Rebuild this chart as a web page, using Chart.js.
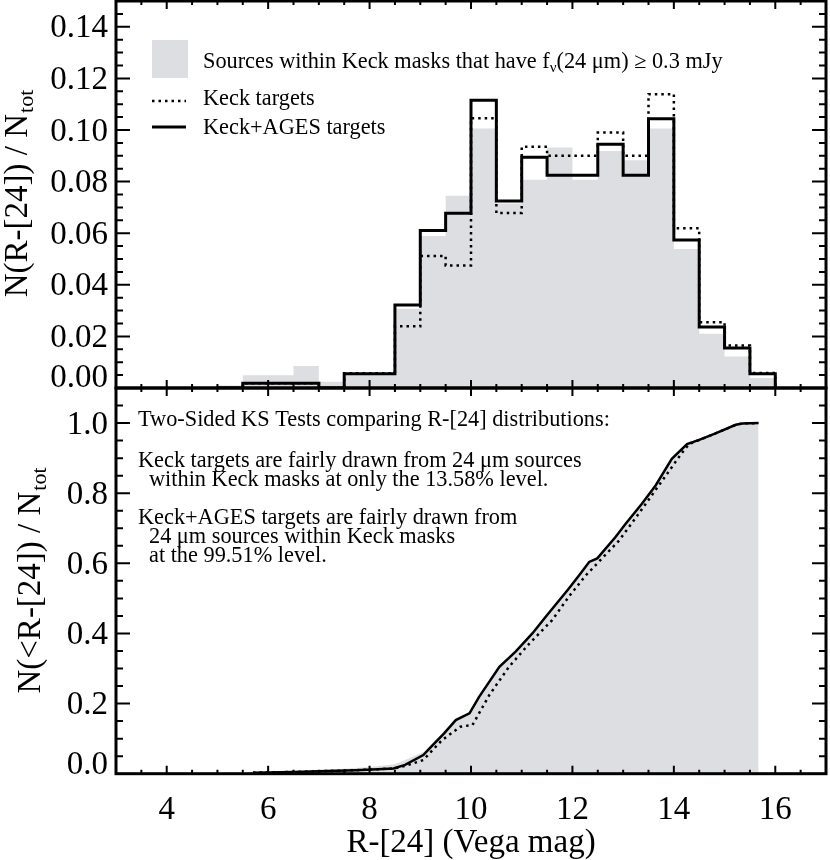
<!DOCTYPE html>
<html>
<head>
<meta charset="utf-8">
<title>R-[24] distributions</title>
<script src="https://cdn.jsdelivr.net/npm/chart.js@4.4.1/dist/chart.umd.min.js"></script>
<style>
  html, body { margin: 0; padding: 0; background: #fff; }
  #wrap { position: relative; width: 830px; height: 860px; }
  .panel { position: absolute; left: 0; width: 830px; }
</style>
</head>
<body>
<div id="wrap">
  <div class="panel" style="top:0;height:392px"><canvas id="topChart"></canvas></div>
  <div class="panel" style="top:380px;height:480px"><canvas id="botChart"></canvas></div>
</div>
<script>
// histogram bins, 0.5 mag wide (edges)
const binEdges = [5.0, 5.5, 6.0, 6.5, 7.0, 7.5, 8.0, 8.5, 9.0, 9.5, 10.0, 10.5,
                  11.0, 11.5, 12.0, 12.5, 13.0, 13.5, 14.0, 14.5, 15.0, 15.5, 16.0];

// N(R-[24]) / Ntot per bin
const histSources   = [0.0010, 0.0049, 0.0049, 0.0085, 0.0024, 0.0052, 0.0052, 0.0307, 0.0589, 0.0745, 0.1006,
                       0.0715, 0.0807, 0.0932, 0.0807, 0.0919, 0.0883, 0.1006, 0.0539, 0.0210, 0.0122, 0.0039];
const histKeck      = [0, 0.0018, 0.0018, 0.0018, 0, 0.0057, 0.0057, 0.0239, 0.0512, 0.0475, 0.1046,
                       0.0678, 0.0935, 0.0900, 0.0900, 0.0990, 0.0900, 0.1139, 0.0619, 0.0255, 0.0165, 0.0058];
const histKeckAges  = [0, 0.0018, 0.0018, 0.0018, 0, 0.0055, 0.0055, 0.0322, 0.0610, 0.0677, 0.1115,
                       0.0725, 0.0894, 0.0825, 0.0825, 0.0945, 0.0825, 0.1044, 0.0574, 0.0236, 0.0155, 0.0055];

// cumulative N(<R-[24]) / Ntot
const cumSourcesX = [5.0, 5.5, 6.0, 6.5, 7.0, 7.5, 8.0, 8.5, 8.75, 9.06, 9.25, 9.47, 9.7, 9.97, 10.16, 10.56, 10.88,
                     11.21, 11.47, 11.93, 12.16, 12.33, 12.49, 12.85, 13.05, 13.37, 13.64, 13.96, 14.26, 14.5,
                     14.81, 15.22, 15.35, 15.67, 15.67];
const cumSourcesY = [0, 0.001, 0.004, 0.006, 0.011, 0.014, 0.019, 0.027, 0.042, 0.062, 0.088, 0.120, 0.157, 0.177,
                     0.224, 0.310, 0.353, 0.405, 0.452, 0.532, 0.575, 0.608, 0.618, 0.679, 0.717, 0.774, 0.826,
                     0.902, 0.944, 0.956, 0.973, 0.997, 1.0, 1.0, 0];

const cumKeckAgesX = [5.7, 6.5, 7.0, 7.74, 8.47, 8.7, 9.06, 9.25, 9.47, 9.7, 9.97, 10.16, 10.56, 10.88, 11.21,
                      11.47, 11.93, 12.16, 12.33, 12.49, 12.85, 13.05, 13.37, 13.64, 13.96, 14.26, 14.5, 14.81,
                      15.22, 15.35, 15.67];
const cumKeckAgesY = [0.003, 0.005, 0.007, 0.010, 0.015, 0.025, 0.053, 0.082, 0.115, 0.153, 0.172, 0.219, 0.305,
                      0.348, 0.400, 0.447, 0.528, 0.571, 0.604, 0.614, 0.675, 0.713, 0.770, 0.822, 0.898, 0.940,
                      0.952, 0.970, 0.995, 0.999, 1.0];

const cumKeckX = [5.7, 6.5, 7.0, 7.74, 8.47, 8.7, 9.06, 9.43, 9.79, 10.03, 10.36, 10.75, 11.15, 11.6, 11.93,
                  12.26, 12.59, 12.92, 13.24, 13.57, 13.9, 14.16, 14.3, 14.81, 15.22, 15.35, 15.67];
const cumKeckY = [0.003, 0.005, 0.007, 0.010, 0.015, 0.022, 0.039, 0.096, 0.134, 0.139, 0.224, 0.305, 0.371,
                  0.438, 0.505, 0.565, 0.615, 0.665, 0.728, 0.795, 0.862, 0.915, 0.940, 0.970, 0.995, 0.999, 1.0];

// tick labels
const xTickValues = [4, 6, 8, 10, 12, 14, 16];
const topYTickValues = [0, 0.02, 0.04, 0.06, 0.08, 0.10, 0.12, 0.14];
const botYTickValues = [0, 0.2, 0.4, 0.6, 0.8, 1.0];

const legendLabels = ['Sources within Keck masks that have f', 'Keck targets', 'Keck+AGES targets'];
const ksLines = [
  ['Two-Sided KS Tests comparing R-[24] distributions:', 138, 426],
  ['Keck targets are fairly drawn from 24 \u03bcm sources', 138, 466.5],
  ['within Keck masks at only the 13.58% level.', 149, 485.5],
  ['Keck+AGES targets are fairly drawn from', 138, 524],
  ['24 \u03bcm sources within Keck masks', 149, 543],
  ['at the 99.51% level.', 149, 562]
];

const GRAY = 'rgb(221,222,225)';
const FONT = '"Liberation Serif", "Times New Roman", Times, serif';
const TXT = 22.3;
const BOT_TOP = 380; // page offset of the lower canvas

// histogram -> points for a stepped line (horizontal first)
function stepPoints(vals) {
  const last = binEdges.length - 1;
  const pts = [{x: binEdges[0], y: 0}];
  vals.forEach((v, i) => pts.push({x: binEdges[i], y: v}));
  pts.push({x: binEdges[last], y: vals[vals.length - 1]});
  pts.push({x: binEdges[last], y: 0});
  return pts;
}

function xy(xs, ys) {
  return xs.map((x, i) => ({x: x, y: ys[i]}));
}

function noPad(s) {
  s.paddingTop = 0;
  s.paddingBottom = 0;
  s.paddingLeft = 0;
  s.paddingRight = 0;
}

// inward IDL style ticks + box
function framePlugin(id, yStep, yCount, yMajorEvery) {
  return {
    id: id,
    afterDatasetsDraw(chart) {
      const ctx = chart.ctx, a = chart.chartArea;
      const xs = chart.scales.x, ys = chart.scales.y;
      ctx.save();
      ctx.strokeStyle = '#000';
      ctx.lineWidth = 2;
      ctx.beginPath();
      for (let k = 7; k <= 33; k++) {
        const v = k / 2;
        const len = xTickValues.includes(v) ? 8 : 4;
        const px = xs.getPixelForValue(v);
        ctx.moveTo(px, a.bottom); ctx.lineTo(px, a.bottom - len);
        ctx.moveTo(px, a.top); ctx.lineTo(px, a.top + len);
      }
      for (let k = 1; k < yCount; k++) {
        const len = k % yMajorEvery === 0 ? 14 : 7;
        const py = ys.getPixelForValue(k * yStep);
        ctx.moveTo(a.left, py); ctx.lineTo(a.left + len, py);
        ctx.moveTo(a.right, py); ctx.lineTo(a.right - len, py);
      }
      ctx.stroke();
      ctx.lineWidth = 3;
      ctx.strokeRect(a.left, a.top, a.right - a.left, a.bottom - a.top);
      ctx.restore();
    }
  };
}

// rotated axis title with "tot" subscript
function yTitle(ctx, main, baseX, cy) {
  ctx.save();
  ctx.translate(baseX, cy);
  ctx.rotate(-Math.PI / 2);
  ctx.fillStyle = '#000';
  ctx.textAlign = 'left';
  ctx.textBaseline = 'alphabetic';
  ctx.font = '33px ' + FONT;
  const w1 = ctx.measureText(main).width;
  ctx.font = '22px ' + FONT;
  const w2 = ctx.measureText('tot').width;
  const x0 = -(w1 + w2) / 2;
  ctx.font = '33px ' + FONT;
  ctx.fillText(main, x0, 0);
  ctx.font = '22px ' + FONT;
  ctx.fillText('tot', x0 + w1 + 1, 6);
  ctx.restore();
}

function zeroLabel(ctx, text, y) {
  ctx.save();
  ctx.fillStyle = '#000';
  ctx.font = '33px ' + FONT;
  ctx.textAlign = 'right';
  ctx.textBaseline = 'middle';
  ctx.fillText(text, 108, y);
  ctx.restore();
}

const topText = {
  id: 'topText',
  afterDraw(chart) {
    const ctx = chart.ctx;
    ctx.save();
    ctx.fillStyle = GRAY;
    ctx.fillRect(152, 40, 36, 38);
    ctx.fillStyle = '#000';
    ctx.textAlign = 'left';
    ctx.textBaseline = 'alphabetic';
    ctx.font = TXT + 'px ' + FONT;
    let x = 203;
    ctx.fillText(legendLabels[0], x, 67.5);
    x += ctx.measureText(legendLabels[0]).width;
    ctx.font = '15px ' + FONT;
    ctx.fillText('\u03bd', x, 72);
    x += ctx.measureText('\u03bd').width;
    ctx.font = TXT + 'px ' + FONT;
    ctx.fillText('(24 \u03bcm) \u2265 0.3 mJy', x, 67.5);
    ctx.fillText(legendLabels[1], 203, 104.5);
    ctx.fillText(legendLabels[2], 203, 133.5);

    ctx.strokeStyle = '#000';
    ctx.lineWidth = 2.5;
    ctx.setLineDash([2.5, 4]);
    ctx.beginPath(); ctx.moveTo(152, 101); ctx.lineTo(186, 101); ctx.stroke();
    ctx.setLineDash([]);
    ctx.lineWidth = 3;
    ctx.beginPath(); ctx.moveTo(152, 127); ctx.lineTo(186, 127); ctx.stroke();
    ctx.restore();

    yTitle(ctx, 'N(R-[24]) / N', 27, 194);
    zeroLabel(ctx, '0.00', 378);
  }
};

const botText = {
  id: 'botText',
  afterDraw(chart) {
    const ctx = chart.ctx;
    ctx.save();
    ctx.fillStyle = '#000';
    ctx.textAlign = 'left';
    ctx.textBaseline = 'alphabetic';
    ctx.font = TXT + 'px ' + FONT;
    ksLines.forEach(l => ctx.fillText(l[0], l[1], l[2] - BOT_TOP));
    ctx.restore();

    yTitle(ctx, 'N(<R-[24]) / N', 40, 581 - BOT_TOP);
    zeroLabel(ctx, '0.0', 765 - BOT_TOP);
  }
};

function yScale(max, ticks, digits) {
  return {
    type: 'linear',
    min: 0,
    max: max,
    afterFit: s => { s.width = 116; noPad(s); },
    afterBuildTicks: s => { s.ticks = ticks.map(v => ({value: v})); },
    grid: {display: false, drawTicks: false},
    border: {display: false},
    ticks: {
      color: '#000',
      font: {family: FONT, size: 33},
      padding: 8,
      labelOffset: 2,
      callback: v => (v === 0 ? '' : v.toFixed(digits))
    }
  };
}

Chart.defaults.animation = false;

new Chart(document.getElementById('topChart'), {
  type: 'line',
  data: {
    datasets: [
      {
        label: 'Keck targets',
        data: stepPoints(histKeck),
        stepped: 'before',
        borderColor: '#000',
        borderWidth: 2.5,
        borderDash: [2.5, 4],
        pointRadius: 0,
        fill: false,
        order: 0
      },
      {
        label: 'Keck+AGES targets',
        data: stepPoints(histKeckAges),
        stepped: 'before',
        borderColor: '#000',
        borderWidth: 3,
        borderJoinStyle: 'miter',
        pointRadius: 0,
        fill: false,
        order: 1
      },
      {
        label: 'Sources',
        data: stepPoints(histSources),
        stepped: 'before',
        borderColor: 'rgba(0,0,0,0)',
        borderWidth: 1,
        backgroundColor: GRAY,
        pointRadius: 0,
        fill: 'origin',
        order: 2
      }
    ]
  },
  options: {
    responsive: true,
    maintainAspectRatio: false,
    layout: {padding: {top: 1, right: 4, bottom: 4, left: 0}},
    plugins: {legend: {display: false}, tooltip: {enabled: false}},
    scales: {
      x: {type: 'linear', min: 3, max: 17, display: false},
      y: yScale(0.15, topYTickValues, 2)
    }
  },
  plugins: [framePlugin('frameTop', 0.005, 30, 4), topText]
});

new Chart(document.getElementById('botChart'), {
  type: 'line',
  data: {
    datasets: [
      {
        label: 'Keck targets',
        data: xy(cumKeckX, cumKeckY),
        borderColor: '#000',
        borderWidth: 2.5,
        borderDash: [2.5, 4],
        pointRadius: 0,
        tension: 0,
        fill: false,
        order: 0
      },
      {
        label: 'Keck+AGES targets',
        data: xy(cumKeckAgesX, cumKeckAgesY),
        borderColor: '#000',
        borderWidth: 2.5,
        pointRadius: 0,
        tension: 0,
        fill: false,
        order: 1
      },
      {
        label: 'Sources',
        data: xy(cumSourcesX, cumSourcesY),
        borderColor: 'rgba(0,0,0,0)',
        borderWidth: 1,
        backgroundColor: GRAY,
        pointRadius: 0,
        tension: 0,
        fill: 'origin',
        order: 2
      }
    ]
  },
  options: {
    responsive: true,
    maintainAspectRatio: false,
    layout: {padding: {top: 8, right: 4, bottom: 0, left: 0}},
    plugins: {legend: {display: false}, tooltip: {enabled: false}},
    scales: {
      x: {
        type: 'linear',
        min: 3,
        max: 17,
        afterFit: s => { s.height = 86.3; noPad(s); },
        afterBuildTicks: s => { s.ticks = xTickValues.map(v => ({value: v})); },
        grid: {display: false, drawTicks: false},
        border: {display: false},
        ticks: {color: '#000', font: {family: FONT, size: 33}, padding: 16.5, maxRotation: 0, autoSkip: false},
        title: {
          display: true,
          text: 'R-[24] (Vega mag)',
          color: '#000',
          font: {family: FONT, size: 33, lineHeight: 1},
          padding: 0
        }
      },
      y: yScale(1.1, botYTickValues, 1)
    }
  },
  plugins: [framePlugin('frameBot', 0.05, 22, 4), botText]
});
</script>
</body>
</html>
